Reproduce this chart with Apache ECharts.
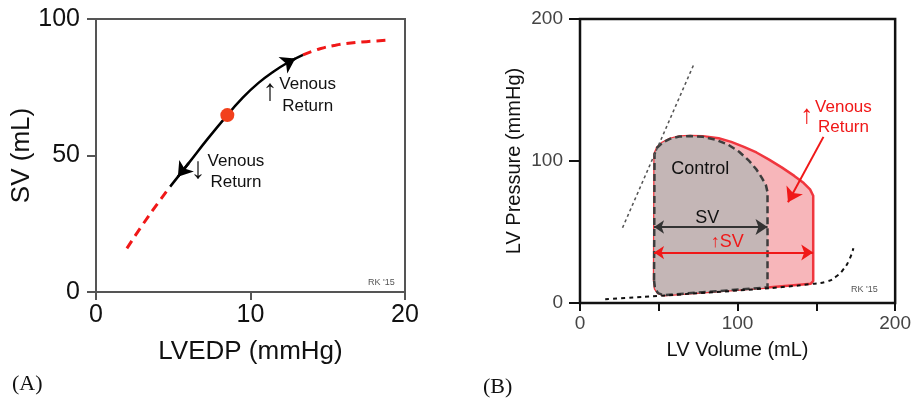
<!DOCTYPE html>
<html>
<head>
<meta charset="utf-8">
<script src="https://cdn.jsdelivr.net/npm/echarts@6/dist/echarts.min.js"></script>
<style>
  html, body { margin: 0; padding: 0; background: #fff; }
  #chart { width: 914px; height: 403px; }
</style>
</head>
<body>
<div id="chart"></div>
<script>
// (A) Frank-Starling curve: SV vs LVEDP
const lowDash = [[2.0, 16], [3.0, 24.5], [4.0, 32.5], [4.8, 38.6]];
const solidDown = [[4.8, 38.6], [6.0, 47.2], [7.2, 55.9], [8.5, 64.8]];
const solidUp = [[8.5, 64.8], [9.5, 71.2], [10.5, 76.5], [11.5, 80.8], [12.5, 84.3], [13.4, 86.9]];
const highDash = [[13.4, 86.9], [14.5, 89.1], [15.5, 90.4], [16.5, 91.2], [17.5, 91.7], [18.8, 92.2]];
const controlPoint = [8.5, 64.8];
const xTicksA = [0, 10, 20];
const yTicksA = [0, 50, 100];

// (B) pressure-volume loops
const controlLoop = [[47, 16], [47.6, 10], [49.5, 7], [53, 5.5], [119, 11], [119, 78], [118, 83], [115.5, 88],
  [112, 94], [107, 100.5], [101, 106.5], [94, 111.5], [86, 115], [78, 117], [70, 117.6], [63, 117.2],
  [57, 115.6], [52.5, 113], [49, 109.5], [47.3, 105], [47, 16]];
const venousLoop = [[47, 16], [47.6, 10], [49.5, 7], [53, 5.5], [119, 11], [146.5, 13.6], [148, 15.5],
  [148, 75.5], [146, 80], [142, 84.5], [136, 89.5], [128, 95.5], [120, 101], [112, 106], [104, 110],
  [96, 113.5], [88, 116], [78, 117.4], [70, 117.6], [63, 117.2], [57, 115.6], [52.5, 113], [49, 109.5],
  [47.3, 105], [47, 16]];
const edpvr = [[16, 2.6], [30, 3.6], [50, 5.0], [70, 6.5], [90, 8.0], [110, 9.6], [130, 11.4], [147, 13.4],
  [157, 15.2], [163, 19], [167, 23.5], [170.5, 29.5], [173.5, 38.5]];
const espvr = [[27, 53], [72.6, 169]];
const svControl = [[47, 53.5], [119, 53.5]];
const svVenous = [[47, 35.5], [148, 35.5]];
const venousPointer = [[154.5, 117], [132, 71]];
const xTicksB = [0, 100, 200];
const yTicksB = [0, 100, 200];

const sans = "'Liberation Sans', Arial, sans-serif";
const red = '#f01818';

let chart = echarts.init(document.getElementById('chart'));

function polygon(points, style) {
  return function (params, api) {
    return {
      type: 'polygon',
      shape: { points: points.map(p => api.coord(p)) },
      style: style
    };
  };
}

function textItem(pos, text, size, color, lh) {
  return {
    value: pos,
    label: { formatter: text, fontSize: size, color: color, lineHeight: lh || size + 3,
      textBorderWidth: 0, opacity: 1 }
  };
}

let option = {
  animation: false,
  textStyle: { fontFamily: sans },
  grid: [
    { left: 96, top: 19, width: 309, height: 273, show: true, borderColor: '#555', borderWidth: 2 },
    { left: 580, top: 19, width: 317, height: 284, show: true, borderColor: '#111', borderWidth: 2.5 }
  ],
  xAxis: [
    {
      gridIndex: 0, type: 'value', min: xTicksA[0], max: xTicksA[2], interval: 10,
      name: 'LVEDP (mmHg)', nameLocation: 'middle', nameGap: 47,
      nameTextStyle: { fontSize: 26, color: '#111' },
      axisLine: { show: false }, splitLine: { show: false },
      axisTick: { length: 8, lineStyle: { color: '#555', width: 2 } },
      axisLabel: { fontSize: 25, color: '#111', margin: 11 }
    },
    {
      gridIndex: 1, type: 'value', min: xTicksB[0], max: xTicksB[2], interval: 50,
      name: 'LV Volume (mL)', nameLocation: 'middle', nameGap: 37,
      nameTextStyle: { fontSize: 20, color: '#111' },
      axisLine: { show: false }, splitLine: { show: false },
      axisTick: { length: 8, lineStyle: { color: '#111', width: 2 } },
      axisLabel: { fontSize: 19, color: '#444', margin: 11,
        formatter: v => (xTicksB.indexOf(v) >= 0 ? String(v) : '') }
    }
  ],
  yAxis: [
    {
      gridIndex: 0, type: 'value', min: yTicksA[0], max: yTicksA[2], interval: 50,
      name: 'SV (mL)', nameLocation: 'middle', nameGap: 60,
      nameTextStyle: { fontSize: 26, color: '#111' },
      axisLine: { show: false }, splitLine: { show: false },
      axisTick: { length: 9, lineStyle: { color: '#555', width: 2 } },
      axisLabel: { fontSize: 25, color: '#111', margin: 16 }
    },
    {
      gridIndex: 1, type: 'value', min: yTicksB[0], max: yTicksB[2], interval: 100,
      name: 'LV Pressure (mmHg)', nameLocation: 'middle', nameGap: 56,
      nameTextStyle: { fontSize: 20, color: '#111' },
      axisLine: { show: false }, splitLine: { show: false },
      axisTick: { length: 11, lineStyle: { color: '#111', width: 2 } },
      axisLabel: { fontSize: 19, color: '#444', margin: 17 }
    }
  ],
  graphic: [
    { type: 'text', left: 12, top: 373, style: { text: '(A)', font: "22px 'Liberation Serif', serif", fill: '#111' } },
    { type: 'text', left: 483, top: 376, style: { text: '(B)', font: "22px 'Liberation Serif', serif", fill: '#111' } },
    { type: 'text', left: 368, top: 278, style: { text: "RK '15", font: '9px ' + sans, fill: '#555' } },
    { type: 'text', left: 851, top: 285, style: { text: "RK '15", font: '9px ' + sans, fill: '#555' } }
  ],
  series: [
    // chart A
    { type: 'line', xAxisIndex: 0, yAxisIndex: 0, data: lowDash, smooth: true, showSymbol: false,
      lineStyle: { color: red, width: 3, type: [9, 6] } },
    { type: 'line', xAxisIndex: 0, yAxisIndex: 0, data: highDash, smooth: true, showSymbol: false,
      lineStyle: { color: red, width: 3, type: [9, 6] } },
    { type: 'line', xAxisIndex: 0, yAxisIndex: 0, data: solidDown, smooth: true, showSymbol: false,
      lineStyle: { color: '#000', width: 2.5 } },
    { type: 'line', xAxisIndex: 0, yAxisIndex: 0, data: solidUp, smooth: true, showSymbol: false,
      lineStyle: { color: '#000', width: 2.5 } },
    { type: 'lines', coordinateSystem: 'cartesian2d', xAxisIndex: 0, yAxisIndex: 0,
      symbol: ['none', 'arrow'], symbolSize: [11, 14],
      lineStyle: { color: '#000', width: 2.5, opacity: 1 },
      data: [
        { coords: [solidDown[1], [5.3, 42.2]] },
        { coords: [solidUp[4], [12.9, 85.5]] }
      ] },
    { type: 'scatter', xAxisIndex: 0, yAxisIndex: 0, data: [controlPoint], symbolSize: 14,
      itemStyle: { color: '#f2401c', opacity: 1 }, z: 5 },
    { type: 'scatter', xAxisIndex: 0, yAxisIndex: 0, symbolSize: 0, silent: true,
      itemStyle: { opacity: 1, color: '#111' },
      label: { show: true, position: 'inside', fontFamily: sans, align: 'center' },
      data: [
        textItem([13.7, 72.2], 'Venous\nReturn', 17, '#111', 22),
        textItem([11.26, 73.5], '↑', 30, '#111'),
        textItem([9.06, 44], 'Venous\nReturn', 17, '#111', 21),
        textItem([6.6, 44.7], '↓', 30, '#111')
      ] },
    // chart B
    { type: 'line', xAxisIndex: 1, yAxisIndex: 1, data: espvr, showSymbol: false,
      lineStyle: { color: '#555', width: 1.6, type: [3, 3] } },
    { type: 'line', xAxisIndex: 1, yAxisIndex: 1, data: edpvr, smooth: true, showSymbol: false,
      lineStyle: { color: '#111', width: 2, type: [4, 4] } },
    { type: 'custom', xAxisIndex: 1, yAxisIndex: 1, data: [[0, 0]],
      renderItem: polygon(venousLoop, { fill: '#f7b6ba', stroke: '#f0363e', lineWidth: 2.5, lineJoin: 'round' }) },
    { type: 'custom', xAxisIndex: 1, yAxisIndex: 1, data: [[0, 0]],
      renderItem: polygon(controlLoop, { fill: '#c4b6b6', stroke: '#3d3d3d', lineWidth: 2.5, lineDash: [7, 4] }) },
    { type: 'lines', coordinateSystem: 'cartesian2d', xAxisIndex: 1, yAxisIndex: 1,
      symbol: ['arrow', 'arrow'], symbolSize: [10, 12], z: 4,
      lineStyle: { width: 2, opacity: 1 },
      data: [
        { coords: svControl, lineStyle: { color: '#333' } },
        { coords: svVenous, lineStyle: { color: red } }
      ] },
    { type: 'lines', coordinateSystem: 'cartesian2d', xAxisIndex: 1, yAxisIndex: 1,
      symbol: ['none', 'arrow'], symbolSize: [10, 14], z: 4,
      lineStyle: { width: 2, opacity: 1, color: red },
      data: [{ coords: venousPointer }] },
    { type: 'scatter', xAxisIndex: 1, yAxisIndex: 1, symbolSize: 0, silent: true, z: 5,
      itemStyle: { opacity: 1, color: '#111' },
      label: { show: true, position: 'inside', fontFamily: sans, align: 'center' },
      data: [
        textItem([76.3, 94.3], 'Control', 18, '#111'),
        textItem([80.8, 60], 'SV', 18, '#111'),
        textItem([93.4, 43], '↑SV', 18, red),
        textItem([167.2, 131], 'Venous\nReturn', 17, red, 20),
        textItem([143.9, 131.6], '↑', 26, red)
      ] }
  ]
};

chart.setOption(option);
window.addEventListener('resize', function () { chart.resize(); });
</script>
</body>
</html>
